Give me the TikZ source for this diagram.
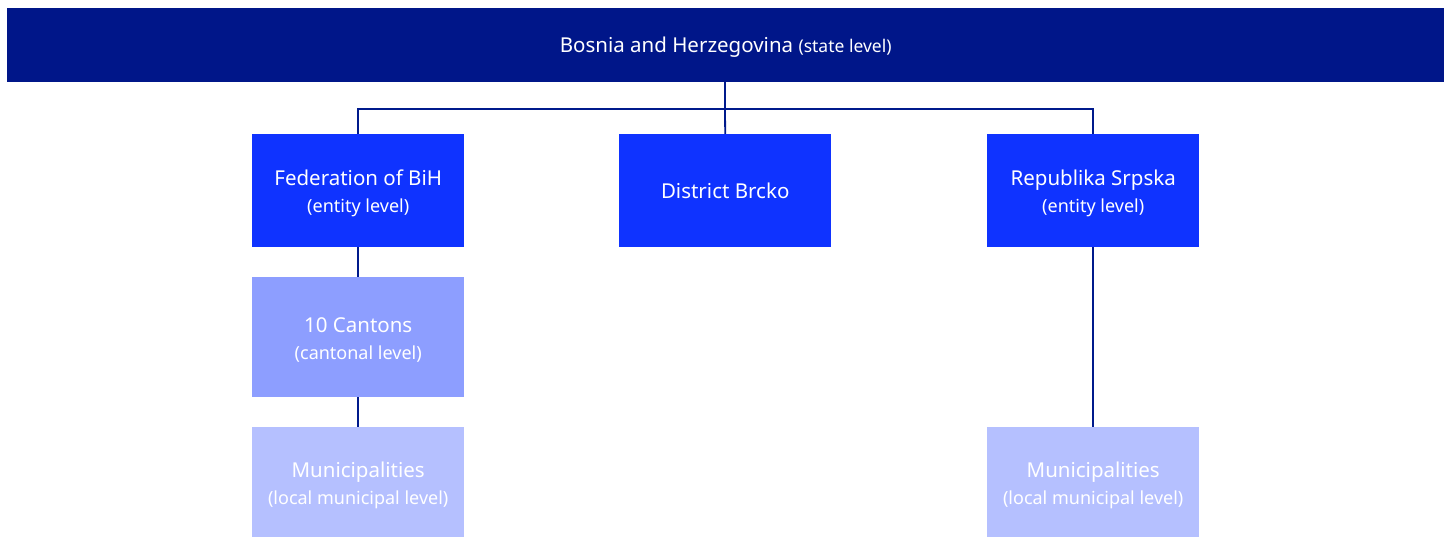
\documentclass[tikz,border=0pt]{standalone}
\usepackage{fontspec}
\setmainfont{Noto Sans}
\definecolor{navy}{HTML}{001689}
\definecolor{linec}{HTML}{001A8C}
\definecolor{bright}{HTML}{0F33FF}
\definecolor{mid}{HTML}{8D9EFF}
\definecolor{pale}{HTML}{B5C0FF}
\newcommand{\subl}[1]{{\fontsize{18}{27}\selectfont #1}}
\begin{document}
\begin{tikzpicture}[x=1pt,y=-1pt,
  box/.style={draw=none,anchor=north west,inner sep=0pt},
  txt/.style={text=white,align=center,inner sep=0pt,font=\fontsize{20.5}{27}\selectfont},
  conn/.style={draw=linec,line width=1.8pt}]
\useasboundingbox (0,0) rectangle (1449,537);
\node[box,fill=navy,minimum width=1437pt,minimum height=74pt] (top) at (7,8) {};
\node[txt,yshift=-2pt] (toptxt) at (top.center)
  {Bosnia and Herzegovina {\fontsize{17.5}{20}\selectfont(state level)}};
\node[box,fill=bright,minimum width=212pt,minimum height=113pt] (fed) at (252,134) {};
\node[txt,yshift=-3pt] (fedtxt) at (fed.center) {Federation of BiH\\\subl{(entity level)}};
\node[box,fill=bright,minimum width=212pt,minimum height=113pt] (brcko) at (619,134) {};
\node[txt] (brckotxt) at (brcko.center) {District Brcko};
\node[box,fill=bright,minimum width=212pt,minimum height=113pt] (rs) at (987,134) {};
\node[txt,yshift=-3pt] (rstxt) at (rs.center) {Republika Srpska\\\subl{(entity level)}};
\node[box,fill=mid,minimum width=212pt,minimum height=120pt] (cant) at (252,277) {};
\node[txt,yshift=-3pt] (canttxt) at (cant.center) {10 Cantons\\\subl{(cantonal level)}};
\node[box,fill=pale,minimum width=212pt,minimum height=110pt] (munl) at (252,427) {};
\node[txt,yshift=-3pt] (munltxt) at (munl.center) {Municipalities\\\subl{(local municipal level)}};
\node[box,fill=pale,minimum width=212pt,minimum height=110pt] (munr) at (987,427) {};
\node[txt,yshift=-3pt] (munrtxt) at (munr.center) {Municipalities\\\subl{(local municipal level)}};
\coordinate (bar) at (725,109);
\draw[conn] (bar |- top.south) -- (bar);
\draw[conn] (fed.north) |- (bar) -| (rs.north);
\draw[conn] (bar) -- (brcko.north);
\draw[conn] (fed.south) -- (cant.north);
\draw[conn] (cant.south) -- (munl.north);
\draw[conn] (rs.south) -- (munr.north);
\end{tikzpicture}
\end{document}
